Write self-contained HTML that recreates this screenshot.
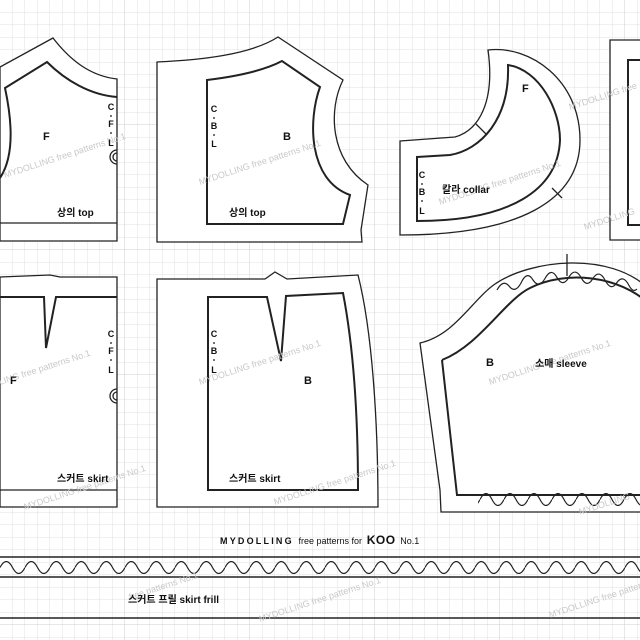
<!DOCTYPE html>
<html><head><meta charset="utf-8"><style>
html,body{margin:0;padding:0;background:#fff}
svg{display:block}
text{font-family:"Liberation Sans","Noto Sans CJK KR",sans-serif}
</style></head><body>
<svg width="640" height="640" viewBox="0 0 640 640" xmlns="http://www.w3.org/2000/svg">
<defs>
<pattern id="g" width="12.5" height="12.5" patternUnits="userSpaceOnUse">
<path d="M12.5 0V12.5M0 12.5H12.5" stroke="#e2e2e2" stroke-width="1" fill="none"/>
</pattern>
<pattern id="G" width="125" height="125" patternUnits="userSpaceOnUse">
<path d="M125 0V125M0 125H125" stroke="#cfcfcf" stroke-width="1" fill="none"/>
</pattern>
<pattern id="w" x="0" y="561" width="25" height="13" patternUnits="userSpaceOnUse">
<path d="M0 6.5 Q6.25 -5.5 12.5 6.5 T25 6.5" stroke="#222" stroke-width="1.2" fill="none"/>
</pattern>
<pattern id="w2" x="0" y="493" width="24" height="13" patternUnits="userSpaceOnUse">
<path d="M0 6.5 Q6 -5.5 12 6.5 T24 6.5" stroke="#222" stroke-width="1.2" fill="none"/>
</pattern>
</defs>
<rect width="640" height="640" fill="url(#g)"/>
<rect width="640" height="640" fill="url(#G)"/>

<g fill="#fff" stroke="#222" stroke-width="1.3">
<path d="M0 67 L53 38 C70 60 90 76 117 79 L117 241 L0 241 Z"/>
<path d="M0 223 L117 223" fill="none"/>
<path d="M0 178 C12 160 14 130 5 88 L47 62 C65 80 90 95 117 97" fill="none" stroke-width="2"/>
<path d="M157 62 C200 60 250 55 278 37 L343 80 C328 110 330 160 368 185 L361 230 L362 242 L157 242 Z"/>
<path d="M207 80 C240 76 265 70 282 61 L320 87 C308 120 308 180 350 195 L343 224 L207 224 Z" stroke-width="2"/>
<path d="M400 141 L455 137 C480 130 495 100 488 50 C530 45 580 80 580 140 C580 200 520 235 400 235 Z"/>
<path d="M417 157 L450 155 C480 150 510 120 508 65 C540 70 560 110 560 140 C558 190 510 221 417 221 Z" stroke-width="2"/>
<path d="M476 124 L486 134 M552 188 L562 198" fill="none"/>
<path d="M610 40 L645 40 L645 240 L610 240 Z"/>
<path d="M645 60 L628 60 L628 225 L645 225" fill="none" stroke-width="2"/>
<path d="M0 277 L50 275 L60 277 L117 277 L117 507 L0 507 Z"/>
<path d="M0 297 L44 297 L46 348 L56 297 L117 297" fill="none" stroke-width="2"/>
<path d="M0 490 L117 490" fill="none"/>
<path d="M157 279 L265 279 L275 272 L287 279 L358 275 C372 330 378 420 378 507 L157 507 Z"/>
<path d="M208 297 L267 297 L281 361 L286 296 L343 293 C354 350 358 420 358 490 L208 490 Z" stroke-width="2"/>
<path d="M420 343 C455 335 472 300 495 284 C530 260 610 250 650 290 L650 512 L441 512 L440 490 Z"/>
<path d="M442 360 C480 345 505 300 530 288 C565 270 620 275 650 305" fill="none" stroke-width="2"/>
<path d="M442 360 L457 495 L650 495" fill="none" stroke-width="2"/>
<path d="M567 254 L567 276" fill="none"/>
</g>
<path transform="translate(0,2)" d="M497 288 Q503 277 509 284 Q515 292 521 281 Q527 268 533 278 Q539 287 545 276.5 Q551 265 557 275.4 Q563 286 569 275 Q575 265 581 275.3 Q587 287 593 276.3 Q599 267 605 278 Q611 290 617 280.4 Q623 272 629 283.5 Q633 291 637 287" stroke="#222" stroke-width="1.2" fill="none"/>
<rect x="478" y="493" width="162" height="13" fill="url(#w2)"/>

<path d="M0 557 H640 M0 577 H640 M0 618 H640" stroke="#222" stroke-width="1.5"/>
<rect x="0" y="561" width="640" height="13" fill="url(#w)"/>

<g fill="none" stroke="#222" stroke-width="1.3">
<path d="M117 150 A7 7 0 0 0 117 164 M117 153 A4 4 0 0 0 117 161"/>
<path d="M117 389 A7 7 0 0 0 117 403 M117 392 A4 4 0 0 0 117 400"/>
</g>

<g fill="#c8c8c8" font-size="9" >
<text transform="translate(5,178) rotate(-18)">MYDOLLING free patterns No.1</text>
<text transform="translate(200,185) rotate(-18)">MYDOLLING free patterns No.1</text>
<text transform="translate(440,205) rotate(-18)">MYDOLLING free patterns No.1</text>
<text transform="translate(570,110) rotate(-18)">MYDOLLING free</text>
<text transform="translate(585,230) rotate(-18)">MYDOLLING</text>
<text transform="translate(0,385) rotate(-18)">LING free patterns No.1</text>
<text transform="translate(200,385) rotate(-18)">MYDOLLING free patterns No.1</text>
<text transform="translate(490,385) rotate(-18)">MYDOLLING free patterns No.1</text>
<text transform="translate(25,510) rotate(-18)">MYDOLLING free patterns No.1</text>
<text transform="translate(275,505) rotate(-18)">MYDOLLING free patterns No.1</text>
<text transform="translate(580,515) rotate(-18)">MYDOLLING</text>
<text transform="translate(130,600) rotate(-18)">free patterns No.1</text>
<text transform="translate(260,622) rotate(-18)">MYDOLLING free patterns No.1</text>
<text transform="translate(550,618) rotate(-18)">MYDOLLING free patterns</text>
</g>

<g fill="#111" font-weight="bold">
<text x="43" y="140" font-size="11">F</text>
<text x="283" y="140" font-size="11">B</text>
<text x="522" y="92" font-size="11">F</text>
<text x="10" y="384" font-size="11">F</text>
<text x="304" y="384" font-size="11">B</text>
<text x="486" y="366" font-size="11">B</text>
<text x="57" y="216" font-size="10">상의 top</text>
<text x="229" y="216" font-size="10">상의 top</text>
<text x="442" y="193" font-size="10">칼라 collar</text>
<text x="57" y="482" font-size="10">스커트 skirt</text>
<text x="229" y="482" font-size="10">스커트 skirt</text>
<text x="535" y="367" font-size="10">소매 sleeve</text>
<text x="128" y="603" font-size="10">스커트 프릴 skirt frill</text>
</g>
<g fill="#111" font-size="9" font-weight="bold" text-anchor="middle">
<text x="111" y="110">C</text><text x="111" y="127">F</text><text x="111" y="146">L</text>
<text x="214" y="112">C</text><text x="214" y="129">B</text><text x="214" y="147">L</text>
<text x="422" y="178">C</text><text x="422" y="195">B</text><text x="422" y="214">L</text>
<text x="111" y="337">C</text><text x="111" y="354">F</text><text x="111" y="373">L</text>
<text x="214" y="337">C</text><text x="214" y="354">B</text><text x="214" y="373">L</text>
</g>
<g fill="#111">
<circle cx="111" cy="116" r="0.9"/><circle cx="111" cy="133" r="0.9"/>
<circle cx="214" cy="118" r="0.9"/><circle cx="214" cy="135" r="0.9"/>
<circle cx="422" cy="184" r="0.9"/><circle cx="422" cy="201" r="0.9"/>
<circle cx="111" cy="343" r="0.9"/><circle cx="111" cy="360" r="0.9"/>
<circle cx="214" cy="343" r="0.9"/><circle cx="214" cy="360" r="0.9"/>
</g>
<text x="220" y="544" font-size="9" font-weight="bold" fill="#111" letter-spacing="2.2">MYDOLLING <tspan letter-spacing="0" font-weight="normal">free patterns for</tspan> <tspan font-size="12" letter-spacing="0.5">KOO</tspan> <tspan letter-spacing="0" font-weight="normal">No.1</tspan></text>
</svg>
</body></html>
